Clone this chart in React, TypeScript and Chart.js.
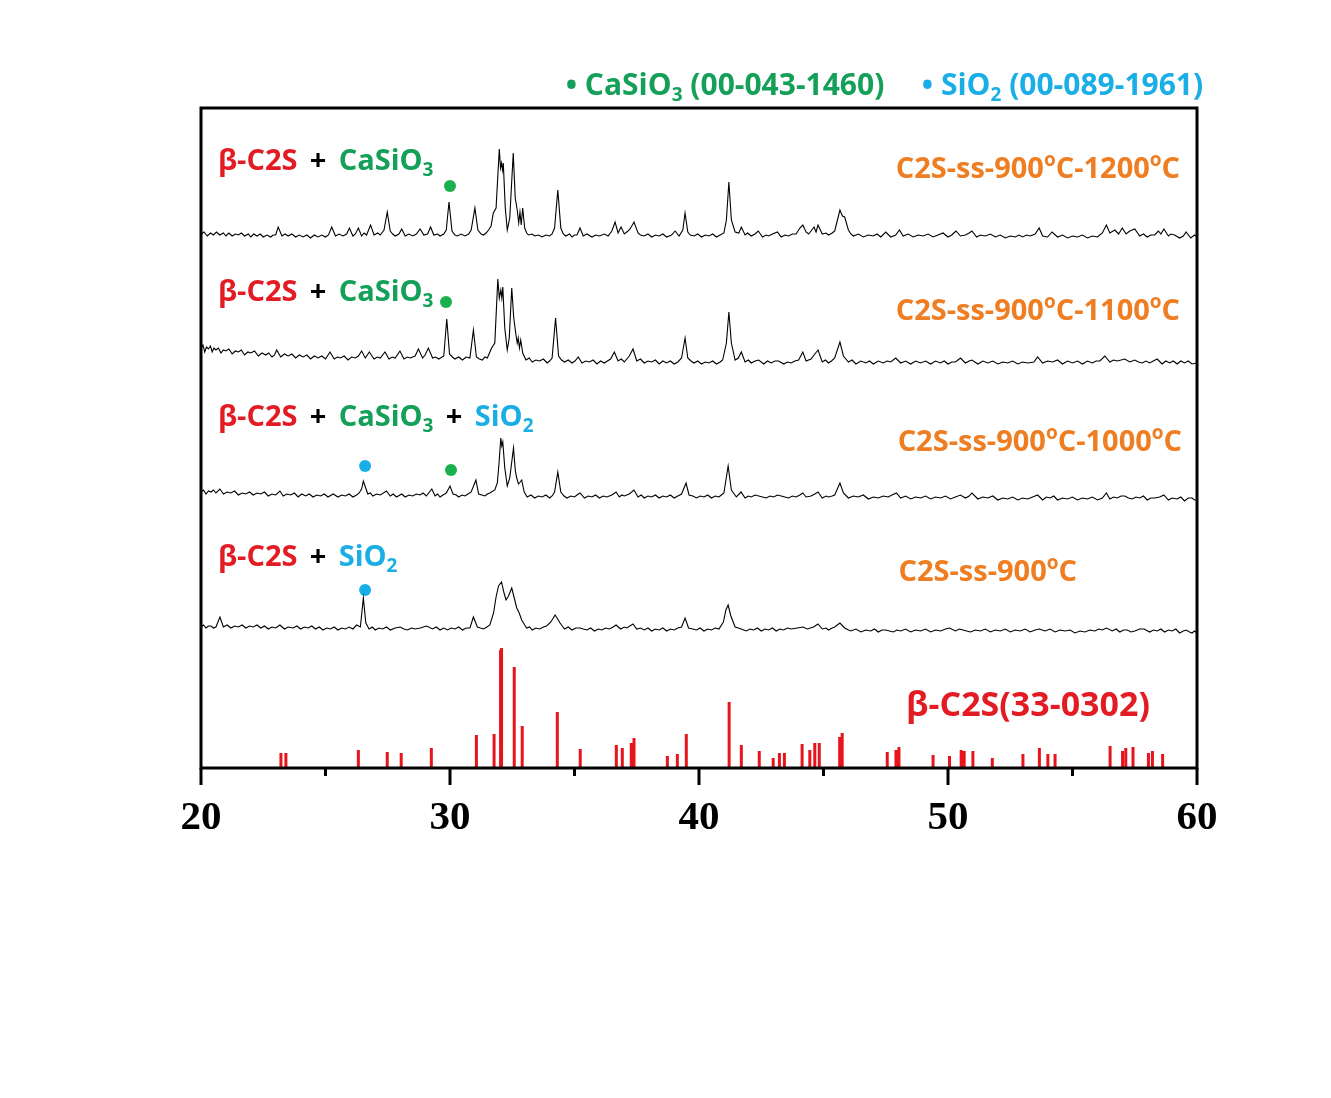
import { useEffect, useRef } from 'react';
import { Chart, registerables } from 'chart.js';
Chart.register(...registerables);

// ---- data (x = 2θ in degrees, y = intensity in arbitrary offset units) ----
const xTicks = [20, 30, 40, 50, 60];
const minorTicks = [25, 35, 45, 55];

const xrd1200: [number, number][] = [
[20.0,534],[20.12,536],[20.25,532],[20.38,535],[20.5,533],[20.62,536],[20.75,533],[20.9,535],[21.0,532],[21.12,535],[21.25,532],[21.38,534],[21.5,533],[21.62,535],[21.75,532],[21.9,534],[22.0,531],[22.12,534],[22.25,532],[22.38,534],[22.5,531],[22.65,533],[22.8,531],[22.9,533],[23.0,533],[23.1,541],[23.25,532],[23.38,534],[23.5,532],[23.65,534],[23.8,531],[23.95,533],[24.1,531],[24.25,533],[24.4,530],[24.55,533],[24.7,531],[24.85,533],[25.0,531],[25.12,533],[25.25,541],[25.4,532],[25.55,534],[25.7,532],[25.85,534],[25.96,540],[26.1,532],[26.2,534],[26.32,540],[26.45,532],[26.55,535],[26.65,533],[26.81,543],[26.95,533],[27.1,535],[27.2,533],[27.35,538],[27.48,556],[27.6,537],[27.7,534],[27.8,532],[27.95,534],[28.06,539],[28.2,532],[28.35,534],[28.5,532],[28.65,534],[28.8,539],[28.95,533],[29.1,534],[29.22,541],[29.35,533],[29.5,534],[29.6,532],[29.75,534],[29.85,538],[29.96,566],[30.08,537],[30.2,533],[30.3,532],[30.45,534],[30.6,532],[30.75,534],[30.85,538],[31.0,560],[31.12,538],[31.25,534],[31.35,533],[31.45,535],[31.55,538],[31.65,542],[31.74,555],[31.85,560],[31.98,619],[32.03,600],[32.07,605],[32.11,598],[32.14,605],[32.22,560],[32.3,538],[32.4,550],[32.54,615],[32.62,570],[32.7,558],[32.76,545],[32.81,556],[32.86,543],[32.92,560],[33.0,540],[33.08,535],[33.15,533],[33.3,534],[33.4,532],[33.55,533],[33.7,531],[33.85,533],[34.0,532],[34.1,534],[34.2,540],[34.33,578],[34.45,540],[34.55,534],[34.65,532],[34.8,534],[34.9,531],[35.0,533],[35.1,533],[35.22,540],[35.35,532],[35.5,534],[35.7,531],[35.85,533],[36.0,532],[36.2,534],[36.35,532],[36.5,537],[36.63,546],[36.75,535],[36.87,541],[37.0,534],[37.1,536],[37.2,538],[37.3,542],[37.39,546],[37.55,535],[37.65,533],[37.8,532],[37.95,534],[38.1,531],[38.25,533],[38.4,532],[38.55,534],[38.7,531],[38.9,533],[39.04,537],[39.2,532],[39.35,538],[39.44,555],[39.55,536],[39.65,533],[39.8,532],[39.95,534],[40.1,531],[40.25,533],[40.4,532],[40.55,534],[40.7,531],[40.85,533],[41.0,535],[41.1,548],[41.2,586],[41.3,548],[41.45,536],[41.6,535],[41.7,541],[41.85,533],[41.95,535],[42.1,532],[42.25,534],[42.38,537],[42.55,531],[42.7,533],[42.8,532],[42.95,534],[43.15,536],[43.3,531],[43.45,533],[43.6,532],[43.75,534],[43.9,534],[44.05,540],[44.17,543],[44.3,536],[44.4,534],[44.5,537],[44.62,541],[44.7,536],[44.78,543],[44.95,534],[45.1,535],[45.2,533],[45.35,535],[45.45,537],[45.58,550],[45.66,558],[45.76,552],[45.85,551],[46.0,538],[46.1,534],[46.2,532],[46.4,534],[46.6,531],[46.8,533],[47.0,532],[47.15,534],[47.3,531],[47.5,536],[47.7,531],[47.9,533],[48.05,538],[48.2,532],[48.4,534],[48.6,531],[48.8,533],[49.0,532],[49.2,534],[49.4,531],[49.6,533],[49.8,535],[50.0,531],[50.15,533],[50.32,537],[50.5,532],[50.7,533],[50.85,535],[50.96,537],[51.15,531],[51.3,533],[51.5,532],[51.7,534],[51.9,531],[52.1,533],[52.3,530],[52.5,532],[52.7,531],[52.85,533],[53.0,531],[53.15,533],[53.3,532],[53.5,534],[53.66,540],[53.8,532],[54.0,531],[54.18,536],[54.4,531],[54.6,533],[54.8,530],[55.0,532],[55.2,531],[55.4,533],[55.6,530],[55.8,532],[56.0,531],[56.2,535],[56.36,543],[56.5,535],[56.7,538],[56.85,534],[57.0,540],[57.15,534],[57.3,537],[57.5,539],[57.7,532],[57.85,534],[58.0,531],[58.15,533],[58.3,533],[58.45,537],[58.55,534],[58.67,539],[58.85,532],[58.95,534],[59.1,533],[59.3,530],[59.45,532],[59.56,536],[59.75,530],[59.9,533],[60.0,531]
];

const xrd1100: [number, number][] = [
[20.0,420],[20.08,423],[20.15,416],[20.22,421],[20.3,419],[20.38,422],[20.45,416],[20.52,420],[20.6,418],[20.7,420],[20.8,415],[20.9,418],[21.0,417],[21.12,419],[21.25,414],[21.38,417],[21.5,416],[21.62,418],[21.75,413],[21.88,416],[22.0,415],[22.15,417],[22.3,412],[22.45,415],[22.6,413],[22.72,415],[22.85,411],[22.95,413],[23.04,418],[23.2,411],[23.35,414],[23.5,412],[23.65,414],[23.8,410],[23.95,413],[24.1,411],[24.25,413],[24.4,409],[24.55,412],[24.7,410],[24.85,412],[25.0,409],[25.18,416],[25.35,409],[25.48,411],[25.6,410],[25.75,412],[25.9,408],[26.05,411],[26.2,410],[26.32,412],[26.45,417],[26.6,410],[26.76,416],[26.95,409],[27.08,411],[27.2,410],[27.39,416],[27.55,409],[27.68,411],[27.8,410],[27.99,417],[28.15,409],[28.28,411],[28.4,410],[28.6,412],[28.73,419],[28.9,410],[29.0,413],[29.13,420],[29.3,410],[29.42,411],[29.55,409],[29.75,412],[29.87,449],[29.98,414],[30.1,411],[30.2,409],[30.35,411],[30.5,408],[30.65,411],[30.8,410],[30.94,438],[31.06,411],[31.18,409],[31.3,408],[31.4,411],[31.5,410],[31.67,420],[31.8,425],[31.92,489],[31.98,470],[32.04,478],[32.08,470],[32.12,481],[32.2,440],[32.3,418],[32.38,430],[32.48,480],[32.56,450],[32.65,433],[32.7,425],[32.74,430],[32.79,420],[32.84,428],[32.92,415],[33.05,408],[33.18,410],[33.3,406],[33.45,408],[33.6,407],[33.75,409],[33.9,405],[34.0,407],[34.1,410],[34.24,450],[34.36,412],[34.48,408],[34.6,406],[34.75,408],[34.9,405],[35.02,407],[35.15,411],[35.3,405],[35.45,407],[35.6,406],[35.75,408],[35.9,404],[36.05,407],[36.2,405],[36.32,407],[36.45,409],[36.6,416],[36.75,407],[36.88,409],[37.0,406],[37.2,412],[37.35,419],[37.5,407],[37.65,409],[37.8,405],[37.95,407],[38.1,406],[38.25,408],[38.4,404],[38.55,407],[38.7,405],[38.85,407],[39.0,404],[39.15,406],[39.3,410],[39.44,430],[39.55,410],[39.68,407],[39.8,405],[39.95,407],[40.1,404],[40.25,406],[40.4,405],[40.55,407],[40.7,404],[40.85,406],[40.95,408],[41.1,425],[41.2,456],[41.3,425],[41.45,408],[41.58,410],[41.7,416],[41.85,406],[41.98,408],[42.1,405],[42.25,407],[42.4,408],[42.6,404],[42.75,407],[42.9,405],[43.05,407],[43.2,407],[43.4,404],[43.55,406],[43.7,405],[43.85,407],[44.0,408],[44.17,416],[44.3,407],[44.5,409],[44.62,413],[44.78,418],[44.95,406],[45.08,408],[45.2,405],[45.32,407],[45.45,410],[45.66,426],[45.8,412],[46.0,406],[46.15,408],[46.3,404],[46.5,407],[46.7,405],[46.85,407],[47.0,404],[47.2,407],[47.4,405],[47.55,407],[47.7,406],[47.9,410],[48.1,405],[48.3,407],[48.5,404],[48.7,407],[48.9,405],[49.1,407],[49.3,404],[49.5,407],[49.7,405],[49.85,407],[50.0,404],[50.15,406],[50.3,406],[50.5,410],[50.7,405],[50.85,407],[50.96,408],[51.2,404],[51.4,407],[51.6,405],[51.8,407],[52.0,404],[52.2,406],[52.4,405],[52.6,407],[52.8,404],[53.0,406],[53.2,405],[53.45,406],[53.6,411],[53.8,405],[54.0,407],[54.2,406],[54.4,408],[54.6,404],[54.8,407],[55.0,405],[55.2,407],[55.4,404],[55.6,407],[55.8,405],[55.95,407],[56.1,407],[56.3,412],[56.5,406],[56.65,408],[56.8,407],[57.1,409],[57.3,406],[57.5,408],[57.65,406],[57.8,405],[57.95,407],[58.1,405],[58.4,409],[58.6,404],[58.75,407],[58.9,405],[59.05,407],[59.2,404],[59.35,407],[59.5,405],[59.65,407],[59.8,404],[60.0,405]
];

const xrd1000: [number, number][] = [
[20.0,276],[20.1,278],[20.2,274],[20.3,277],[20.4,276],[20.5,278],[20.6,275],[20.76,279],[20.9,274],[21.05,276],[21.2,275],[21.35,277],[21.5,273],[21.65,275],[21.8,274],[21.95,276],[22.1,273],[22.25,275],[22.4,274],[22.55,276],[22.7,272],[22.85,274],[23.0,273],[23.17,277],[23.3,272],[23.45,274],[23.6,273],[23.75,275],[23.9,271],[24.05,274],[24.2,272],[24.35,274],[24.5,271],[24.65,273],[24.8,272],[24.95,274],[25.1,271],[25.31,274],[25.5,271],[25.65,273],[25.8,272],[25.95,274],[26.1,271],[26.25,273],[26.35,275],[26.45,279],[26.52,287],[26.6,281],[26.7,274],[26.8,275],[26.9,272],[27.05,274],[27.2,273],[27.45,277],[27.6,272],[27.72,274],[27.85,271],[28.06,274],[28.2,271],[28.35,273],[28.5,272],[28.65,274],[28.8,273],[28.92,275],[29.05,272],[29.27,279],[29.4,272],[29.5,274],[29.6,271],[29.72,273],[29.85,275],[30.0,282],[30.12,274],[30.25,273],[30.35,271],[30.48,273],[30.6,272],[30.72,274],[30.85,276],[31.04,288],[31.15,274],[31.28,273],[31.4,272],[31.5,274],[31.6,275],[31.8,278],[31.9,285],[31.97,305],[32.04,330],[32.08,322],[32.12,326],[32.2,300],[32.3,282],[32.4,290],[32.55,320],[32.62,298],[32.68,290],[32.75,284],[32.82,286],[32.88,288],[32.98,276],[33.1,271],[33.25,273],[33.4,270],[33.55,272],[33.7,271],[33.85,273],[34.0,270],[34.1,272],[34.2,276],[34.33,296],[34.45,276],[34.58,272],[34.7,270],[34.85,272],[35.0,271],[35.1,273],[35.22,275],[35.4,270],[35.55,272],[35.7,271],[35.85,273],[36.0,270],[36.15,272],[36.3,271],[36.5,273],[36.67,276],[36.8,271],[36.9,273],[37.0,272],[37.2,274],[37.39,278],[37.55,271],[37.68,273],[37.8,270],[37.95,272],[38.1,271],[38.25,273],[38.4,270],[38.55,272],[38.7,271],[38.85,273],[39.0,270],[39.15,272],[39.3,274],[39.48,285],[39.6,273],[39.75,272],[39.9,270],[40.05,272],[40.2,271],[40.35,273],[40.5,270],[40.65,272],[40.8,271],[40.9,273],[41.0,275],[41.17,302],[41.3,278],[41.5,271],[41.69,276],[41.85,270],[41.98,272],[42.1,271],[42.25,273],[42.4,272],[42.55,271],[42.7,270],[42.85,272],[43.0,271],[43.15,273],[43.3,272],[43.45,271],[43.6,270],[43.75,272],[43.9,271],[44.05,273],[44.17,275],[44.3,271],[44.5,272],[44.65,274],[44.78,276],[44.95,270],[45.1,272],[45.2,271],[45.35,272],[45.45,273],[45.66,285],[45.8,275],[46.0,270],[46.2,272],[46.4,271],[46.6,273],[46.8,269],[47.0,271],[47.2,270],[47.4,272],[47.6,271],[47.75,273],[47.93,275],[48.1,270],[48.3,272],[48.5,269],[48.7,271],[48.9,270],[49.1,272],[49.3,269],[49.5,271],[49.7,270],[49.9,272],[50.1,269],[50.3,271],[50.5,273],[50.7,270],[50.85,272],[50.96,275],[51.2,269],[51.4,271],[51.6,270],[51.8,272],[52.0,268],[52.2,270],[52.4,269],[52.6,271],[52.8,268],[53.0,270],[53.2,269],[53.4,271],[53.6,273],[53.8,268],[53.95,271],[54.1,270],[54.25,272],[54.4,268],[54.6,270],[54.8,269],[55.0,271],[55.2,268],[55.4,270],[55.6,269],[55.8,271],[56.0,268],[56.2,270],[56.36,275],[56.5,269],[56.65,271],[56.8,270],[56.95,272],[57.1,272],[57.25,270],[57.4,269],[57.55,271],[57.7,270],[57.85,272],[58.0,268],[58.15,270],[58.3,270],[58.5,271],[58.67,273],[58.85,268],[59.0,270],[59.2,269],[59.35,271],[59.5,267],[59.65,270],[59.8,270],[59.9,268],[60.0,268]
];

const xrd900: [number, number][] = [
[20.0,141],[20.1,143],[20.2,140],[20.3,142],[20.4,142],[20.5,140],[20.6,141],[20.76,151],[20.9,141],[21.05,143],[21.2,140],[21.35,142],[21.5,141],[21.65,143],[21.8,140],[21.95,142],[22.1,141],[22.25,143],[22.4,140],[22.55,142],[22.7,139],[22.85,141],[23.0,140],[23.17,143],[23.35,139],[23.5,141],[23.7,140],[23.85,142],[24.0,139],[24.15,141],[24.3,140],[24.45,142],[24.6,139],[24.75,141],[24.9,138],[25.05,140],[25.2,139],[25.35,141],[25.5,138],[25.65,140],[25.8,139],[25.95,141],[26.1,139],[26.25,143],[26.4,141],[26.52,170],[26.62,145],[26.75,139],[26.88,141],[27.0,138],[27.15,140],[27.3,139],[27.45,141],[27.6,138],[27.8,140],[28.0,141],[28.15,139],[28.3,138],[28.45,140],[28.6,139],[28.8,140],[29.06,142],[29.3,139],[29.45,141],[29.6,138],[29.75,140],[29.9,138],[30.05,140],[30.2,139],[30.35,141],[30.5,138],[30.65,140],[30.8,140],[30.94,151],[31.1,141],[31.22,140],[31.35,139],[31.48,141],[31.6,143],[31.75,155],[31.85,171],[31.95,182],[32.07,186],[32.17,175],[32.25,168],[32.35,172],[32.48,180],[32.58,170],[32.68,160],[32.78,155],[32.88,148],[33.0,143],[33.08,140],[33.2,141],[33.3,138],[33.45,140],[33.6,139],[33.75,141],[33.88,142],[34.05,146],[34.22,153],[34.35,148],[34.42,145],[34.6,139],[34.75,141],[34.9,138],[35.05,140],[35.22,140],[35.35,139],[35.5,138],[35.65,140],[35.8,137],[35.95,139],[36.1,138],[36.25,140],[36.4,139],[36.55,141],[36.67,143],[36.85,139],[37.0,141],[37.1,140],[37.35,144],[37.5,139],[37.65,140],[37.8,138],[37.95,140],[38.1,137],[38.25,139],[38.4,138],[38.55,140],[38.7,137],[38.85,139],[39.0,138],[39.15,140],[39.3,141],[39.44,150],[39.58,140],[39.75,139],[39.9,138],[40.05,140],[40.2,137],[40.35,139],[40.5,138],[40.65,140],[40.8,139],[40.98,146],[41.08,158],[41.17,163],[41.28,152],[41.45,141],[41.58,140],[41.69,139],[41.9,137],[42.05,139],[42.2,138],[42.35,140],[42.5,137],[42.65,139],[42.8,138],[42.95,140],[43.1,137],[43.25,139],[43.4,138],[43.55,140],[43.7,139],[43.95,140],[44.17,141],[44.35,139],[44.6,141],[44.78,144],[44.95,139],[45.1,140],[45.2,138],[45.35,140],[45.45,141],[45.66,145],[45.85,140],[46.0,138],[46.1,137],[46.3,139],[46.5,136],[46.7,138],[46.9,137],[47.05,139],[47.2,136],[47.35,138],[47.5,138],[47.65,137],[47.8,136],[47.95,138],[48.1,137],[48.3,139],[48.5,136],[48.7,138],[48.9,137],[49.1,139],[49.3,136],[49.5,138],[49.7,137],[49.9,139],[50.06,140],[50.3,137],[50.45,139],[50.6,138],[50.75,137],[50.9,136],[51.1,138],[51.3,137],[51.5,139],[51.7,136],[51.9,138],[52.1,137],[52.3,139],[52.5,136],[52.7,138],[52.9,137],[53.1,139],[53.3,136],[53.5,138],[53.66,139],[53.9,137],[54.1,139],[54.3,136],[54.5,138],[54.7,137],[54.9,138],[55.1,135],[55.3,137],[55.5,136],[55.7,138],[55.9,137],[56.05,139],[56.2,138],[56.36,140],[56.6,137],[56.75,139],[56.9,136],[57.05,138],[57.2,138],[57.35,136],[57.5,137],[57.7,139],[57.88,139],[58.1,136],[58.25,138],[58.4,137],[58.55,139],[58.7,136],[58.85,138],[59.0,137],[59.15,139],[59.3,135],[59.45,137],[59.56,138],[59.7,136],[59.8,135],[59.9,137],[60.0,135]
];

// β-C2S reference pattern (PDF 33-0302): positions and stick heights
const refPos = [23.21,23.41,26.32,27.48,28.04,29.25,31.06,31.77,32.03,32.07,32.58,32.9,34.31,35.23,36.68,36.92,37.28,37.39,38.73,39.13,39.49,41.21,41.7,42.42,42.98,43.23,43.43,44.14,44.45,44.65,44.83,45.65,45.75,47.56,47.91,48.03,49.4,50.06,50.53,50.65,51.0,51.78,53.01,53.67,54.01,54.3,56.51,57.01,57.14,57.43,58.05,58.21,58.62];
const refInt = [15,15,18,16,15,20,33,34,118,120,101,42,56,19,23,20,25,30,12,14,34,66,23,17,10,15,15,24,18,25,25,31,35,16,18,21,13,12,18,17,17,10,14,20,14,14,22,17,20,21,15,17,14];

// phase markers (x, y) and their phase
const markerX = [30.0, 29.84, 26.59, 30.04, 26.59];
const markerY = [582, 466, 302, 298, 178];
const markerPhase = ['CaSiO3', 'CaSiO3', 'SiO2', 'CaSiO3', 'SiO2'];

const RED = '#e31b23';
const STICK = '#e8141c';
const GREEN = '#14a058';
const GREEN_DOT = '#1bb04e';
const BLUE = '#1aaee6';
const ORANGE = '#ef7d22';
const FONT = '"Open Sans", "DejaVu Sans", sans-serif';

type Seg = { t: string; c: string; sub?: boolean; sup?: boolean };

function drawRich(ctx: CanvasRenderingContext2D, segs: Seg[], x: number, y: number, size: number, align: 'left' | 'right') {
  const fontFor = (s: Seg) => `bold ${s.sub || s.sup ? Math.round(size * 0.64) : size}px ${FONT}`;
  let total = 0;
  const widths = segs.map((s) => {
    ctx.font = fontFor(s);
    const w = ctx.measureText(s.t).width;
    total += w;
    return w;
  });
  let cx = align === 'right' ? x - total : x;
  ctx.textAlign = 'left';
  ctx.textBaseline = 'alphabetic';
  const base = y + size * 0.36;
  segs.forEach((s, i) => {
    ctx.font = fontFor(s);
    ctx.fillStyle = s.c;
    let yy = base;
    if (s.sub) yy = base + size * 0.2;
    if (s.sup) yy = base - size * 0.42;
    ctx.fillText(s.t, cx, yy);
    cx += widths[i];
  });
}

const frameAndText = {
  id: 'frameAndText',
  afterDraw(chart: any) {
    const { ctx, chartArea: a, scales } = chart;
    const xs = scales.x;
    const ys = scales.y;
    const X = (v: number) => xs.getPixelForValue(v);
    const Y = (v: number) => ys.getPixelForValue(v);
    ctx.save();
    // frame
    ctx.strokeStyle = '#000';
    ctx.lineWidth = 3;
    ctx.strokeRect(a.left, a.top, a.right - a.left, a.bottom - a.top);
    // ticks
    ctx.lineCap = 'butt';
    xTicks.forEach((v) => {
      ctx.beginPath();
      ctx.moveTo(X(v), a.bottom);
      ctx.lineTo(X(v), a.bottom + 17);
      ctx.stroke();
    });
    minorTicks.forEach((v) => {
      ctx.beginPath();
      ctx.moveTo(X(v), a.bottom);
      ctx.lineTo(X(v), a.bottom + 8);
      ctx.stroke();
    });

    const plus: Seg = { t: ' \u2009+ \u2009', c: '#000' };
    const c2s: Seg = { t: 'β-C2S', c: RED };
    const casio = [{ t: 'CaSiO', c: GREEN }, { t: '3', c: GREEN, sub: true }];
    const sio = [{ t: 'SiO', c: BLUE }, { t: '2', c: BLUE, sub: true }];
    const S = 29;
    // left phase labels
    drawRich(ctx, [c2s, plus, ...casio], X(20.68), Y(608), S, 'left');
    drawRich(ctx, [c2s, plus, ...casio], X(20.68), Y(477), S, 'left');
    drawRich(ctx, [c2s, plus, ...casio, plus, ...sio], X(20.68), Y(352), S, 'left');
    drawRich(ctx, [c2s, plus, ...sio], X(20.68), Y(212), S, 'left');
    // right sample labels
    const sample = (t2?: string): Seg[] => {
      const s: Seg[] = [{ t: 'C2S-ss-900', c: ORANGE }, { t: 'o', c: ORANGE, sup: true }, { t: 'C', c: ORANGE }];
      if (t2) s.push({ t: '-' + t2, c: ORANGE }, { t: 'o', c: ORANGE, sup: true }, { t: 'C', c: ORANGE });
      return s;
    };
    drawRich(ctx, sample('1200'), X(59.32), Y(600), S, 'right');
    drawRich(ctx, sample('1100'), X(59.32), Y(458), S, 'right');
    drawRich(ctx, sample('1000'), X(59.4), Y(327), S, 'right');
    drawRich(ctx, sample(), X(55.18), Y(197), S, 'right');
    drawRich(ctx, [{ t: 'β-C2S(33-0302)', c: RED }], X(58.11), Y(64), 34, 'right');
    // legend
    drawRich(ctx, [{ t: '• CaSiO', c: GREEN }, { t: '3', c: GREEN, sub: true }, { t: ' (00-043-1460)', c: GREEN }], X(34.65), Y(684), 30, 'left');
    drawRich(ctx, [{ t: '• SiO', c: BLUE }, { t: '2', c: BLUE, sub: true }, { t: ' (00-089-1961)', c: BLUE }], X(48.95), Y(684), 30, 'left');
    ctx.restore();
  },
};

export default function App() {
  const ref = useRef<HTMLCanvasElement>(null);
  useEffect(() => {
    document.body.style.margin = '0';
    const toPts = (arr: [number, number][]) => arr.map(([x, y]) => ({ x, y }));
    const sticks: any[] = [];
    refPos.forEach((x, i) => {
      sticks.push({ x, y: 0 }, { x, y: refInt[i] }, { x, y: null });
    });
    const curve = (data: [number, number][]) => ({
      type: 'line',
      data: toPts(data),
      borderColor: '#000',
      borderWidth: 1.1,
      pointRadius: 0,
      tension: 0,
      fill: false,
    });
    const chart = new Chart(ref.current!, {
      type: 'line',
      data: {
        datasets: [
          curve(xrd1200) as any,
          curve(xrd1100) as any,
          curve(xrd1000) as any,
          curve(xrd900) as any,
          {
            data: sticks,
            borderColor: STICK,
            borderWidth: 3,
            pointRadius: 0,
            spanGaps: false,
            borderCapStyle: 'butt',
          },
          {
            data: markerX.map((x, i) => ({ x, y: markerY[i] })),
            showLine: false,
            pointRadius: 6,
            pointBorderWidth: 0,
            pointBackgroundColor: markerPhase.map((p) => (p === 'SiO2' ? BLUE : GREEN_DOT)),
          },
        ],
      },
      options: {
        animation: false,
        responsive: false,
        events: [],
        layout: { padding: { left: 201, right: 134, top: 108, bottom: 250 } },
        plugins: { legend: { display: false }, tooltip: { enabled: false } },
        scales: {
          x: {
            type: 'linear',
            min: 20,
            max: 60,
            afterFit: (s: any) => { s.height = 80; },
            afterBuildTicks: (s: any) => { s.ticks = xTicks.map((v) => ({ value: v })); },
            grid: { display: false, drawTicks: false },
            border: { display: false },
            ticks: {
              color: '#000',
              padding: 26,
              font: { family: '"Liberation Serif", "Times New Roman", serif', weight: 'bold', size: 41 },
              maxRotation: 0,
            },
          },
          y: { display: false, min: 0, max: 660 },
        },
      },
      plugins: [frameAndText],
    });
    return () => chart.destroy();
  }, []);
  return (
    <div style={{ width: 1331, height: 1098 }}>
      <canvas ref={ref} width={1331} height={1098} />
    </div>
  );
}
